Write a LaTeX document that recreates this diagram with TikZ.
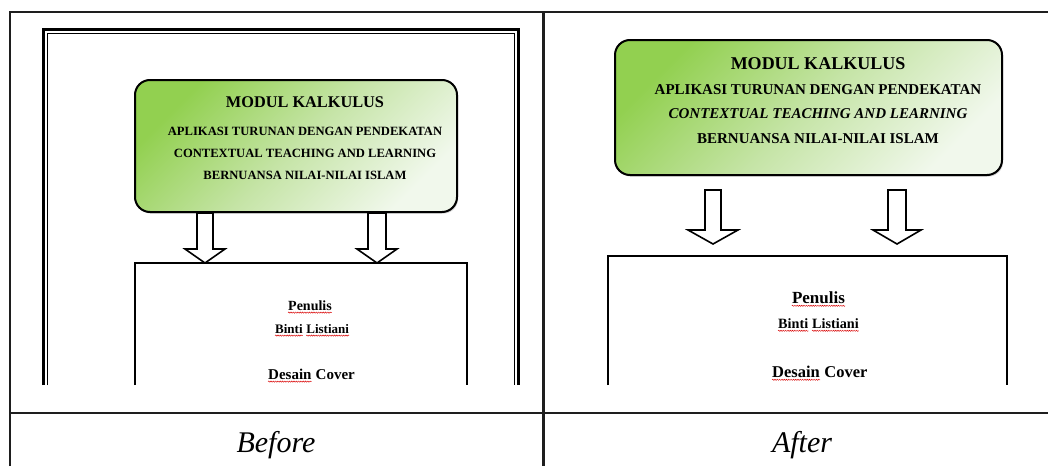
\documentclass[tikz,border=0pt]{standalone}
\usepackage{fontspec}
\setmainfont{Liberation Serif}
\usetikzlibrary{positioning, calc, shadows, decorations.pathmorphing}
\definecolor{grnA}{HTML}{92D050}
\definecolor{grnB}{HTML}{C5E4A6}
\definecolor{grnC}{HTML}{F1F8EC}
\definecolor{rulegrey}{HTML}{1E1E1E}
\tikzset{
  tabline/.style={draw=rulegrey, line width=1.6pt},
  framethick/.style={draw=black, line width=2.6pt},
  framethin/.style={draw=black, line width=.9pt},
  modbox/.style={
    draw=black, line width=2pt, rounded corners=15pt, inner sep=0pt,
    top color=grnA, bottom color=grnC, middle color=grnB, shading angle=45,
    drop shadow={opacity=.35, shadow xshift=1.2pt, shadow yshift=-1.6pt}},
  pagebox/.style={draw=black, line width=1.8pt},
  hollow/.style={draw=black, line width=1.6pt, fill=white, line join=miter},
  word/.style={inner sep=0pt, anchor=base},
  spell/.style={draw=red!85!black, line width=.45pt, decorate,
                decoration={snake, amplitude=.6pt, segment length=2.3pt}},
}

\begin{document}
\begin{tikzpicture}[x=1pt, y=-1pt,
    ttlL/.style={word, font=\bfseries\fontsize{16.3}{18}\selectfont},
    subL/.style={word, font=\bfseries\fontsize{12.6}{14}\selectfont},
    ttlR/.style={word, font=\bfseries\fontsize{18}{20}\selectfont},
    subR/.style={word, font=\bfseries\fontsize{15}{17}\selectfont},
    caption/.style={word, font=\itshape\fontsize{30}{32}\selectfont}]
  \useasboundingbox (0,0) rectangle (1048,466);

  % table rules
  \draw[tabline] (10,466) -- (10,11.7) -- (1048,11.7);
  \draw[tabline] (10,412.7) -- (1048,412.7);
  \draw[tabline, line width=2.6pt] (543.5,11.7) -- (543.5,466);

  % before: page frame
  \draw[framethick] (43.5,385) |- (518.5,29.5) -- (518.5,385);
  \draw[framethin] (47.5,385) |- (514.5,33.5) -- (514.5,385);

  % before: heading box
  \node[modbox, minimum width=322pt, minimum height=132pt] (headL) at (296,146) {};
  \node[ttlL] (modL)  at (305,107) {MODUL KALKULUS};
  \node[subL] (aplL)  at (305,135) {APLIKASI TURUNAN DENGAN PENDEKATAN};
  \node[subL] (ctlL)  at (305,157) {CONTEXTUAL TEACHING AND LEARNING};
  \node[subL] (islL)  at (305,179) {BERNUANSA NILAI-NILAI ISLAM};

  % before: arrows and cover page
  \draw[hollow] (197,213) -- (213,213) -- (213,249) -- (225,249) -- (205,263)
                -- (185,249) -- (197,249) -- cycle;
  \draw[hollow] (368,213) -- (386,213) -- (386,249) -- (397,249) -- (377,263)
                -- (357,249) -- (368,249) -- cycle;
  \draw[pagebox, line width=1.6pt] (135,385) |- (467,263) -- (467,385);
  \node[word, font=\bfseries\fontsize{14}{16}\selectfont] (penL) at (310,310) {Penulis};
  \node[word, anchor=base west, font=\bfseries\fontsize{13}{15}\selectfont]
       (bntL) at (275,333) {Binti};
  \node[word, anchor=base west, font=\bfseries\fontsize{13}{15}\selectfont]
       (lstL) at ([xshift=3.3pt]bntL.base east) {Listiani};
  \node[word, anchor=base west, font=\bfseries\fontsize{15}{17}\selectfont]
       (desL) at (268,379) {Desain};
  \node[word, anchor=base west, font=\bfseries\fontsize{15}{17}\selectfont]
       (covL) at ([xshift=3.8pt]desL.base east) {Cover};
  \foreach \w in {penL, bntL, lstL, desL}
    \draw[spell] ([yshift=-2.6pt]\w.base west) -- ([yshift=-2.6pt]\w.base east);

  % after: heading box
  \node[modbox, minimum width=387pt, minimum height=135pt] (headR) at (808.5,107.5) {};
  \node[ttlR] (modR)  at (818,69)  {MODUL KALKULUS};
  \node[subR] (aplR)  at (818,94)  {APLIKASI TURUNAN DENGAN PENDEKATAN};
  \node[subR] (ctlR)  at (818,118) {\itshape CONTEXTUAL TEACHING AND LEARNING};
  \node[subR] (islR)  at (818,143) {BERNUANSA NILAI-NILAI ISLAM};

  % after: arrows and cover page
  \draw[hollow] (705,190) -- (721,190) -- (721,230) -- (738,230) -- (713,244)
                -- (688,230) -- (705,230) -- cycle;
  \draw[hollow] (888,190) -- (906,190) -- (906,230) -- (921,230) -- (897,244)
                -- (873,230) -- (888,230) -- cycle;
  \draw[pagebox] (608.3,385) |- (1006.7,256) -- (1006.7,385);
  \node[word, font=\bfseries\fontsize{17}{19}\selectfont] (penR) at (818.5,303) {Penulis};
  \node[word, anchor=base west, font=\bfseries\fontsize{14.2}{16}\selectfont]
       (bntR) at (778,328) {Binti};
  \node[word, anchor=base west, font=\bfseries\fontsize{14.2}{16}\selectfont]
       (lstR) at ([xshift=3.6pt]bntR.base east) {Listiani};
  \node[word, anchor=base west, font=\bfseries\fontsize{16.5}{18}\selectfont]
       (desR) at (772,377) {Desain};
  \node[word, anchor=base west, font=\bfseries\fontsize{16.5}{18}\selectfont]
       (covR) at ([xshift=4.1pt]desR.base east) {Cover};
  \foreach \w in {penR, bntR, lstR, desR}
    \draw[spell] ([yshift=-2.8pt]\w.base west) -- ([yshift=-2.8pt]\w.base east);

  % captions
  \node[caption] (before) at (276,452) {Before};
  \node[caption] (after)  at (802,452) {After};
\end{tikzpicture}
\end{document}
